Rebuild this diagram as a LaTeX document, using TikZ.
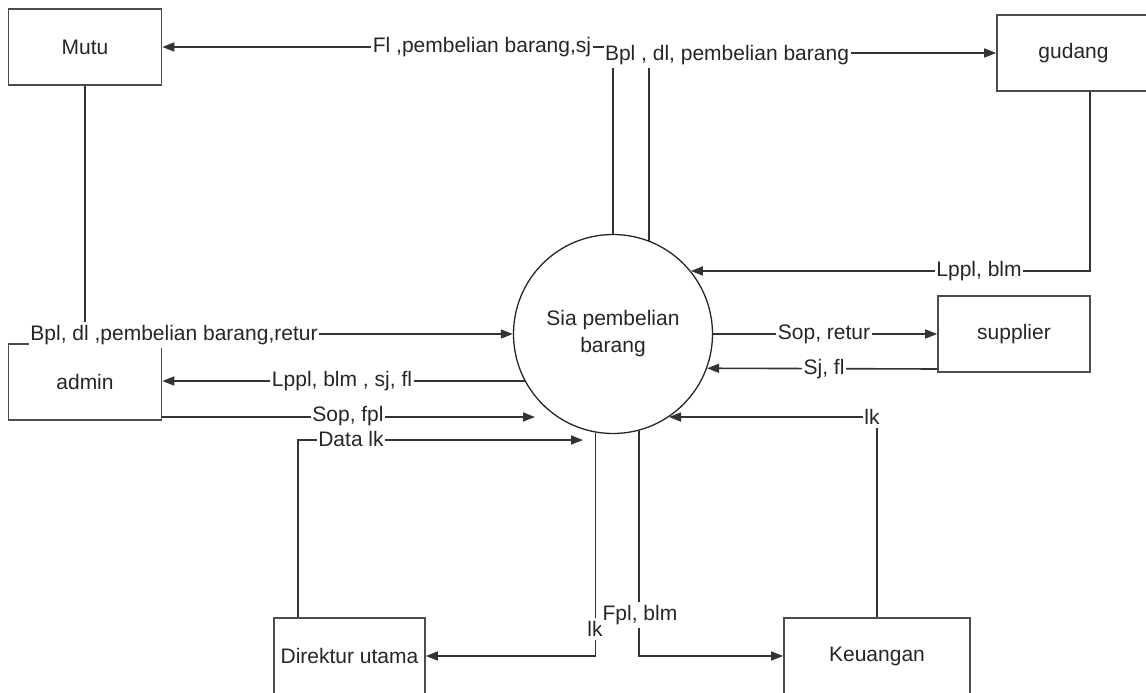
\documentclass[tikz,border=0pt]{standalone}
\usepackage{fontspec}
\setmainfont{Liberation Sans}
\usetikzlibrary{arrows.meta,calc}
\begin{document}
\begin{tikzpicture}[x=1pt,y=-1pt,
  every node/.style={font=\fontsize{21}{27}\selectfont, text=black!85},
  entity/.style={draw=black!70, line width=1.7pt, fill=white, minimum width=153pt,
                 minimum height=76pt, inner sep=0pt},
  process/.style={circle, draw=black!85, line width=1.3pt, minimum size=199pt,
                  inner sep=0pt, align=center},
  flow/.style={draw=black!80, line width=1.6pt, -{Triangle[length=12pt,width=9pt]}},
  lbl/.style={fill=white, inner xsep=1.5pt, inner ysep=3pt}
]
% canvas
\path[use as bounding box, fill=white] (0,0) rectangle (1146,693);
\clip (0,0) rectangle (1146,693);

% external entities and the process
\node[entity] (mutu) at (85,47) {Mutu};
\node[entity] (gudang) at (1073.5,53) {gudang};
\node[entity] (admin) at (85,382) {admin};
\node[entity, minimum width=152pt] (supplier) at (1014,334) {supplier};
\node[entity, minimum width=151pt] (direktur) at (349.5,656) {Direktur utama};
\node[entity, minimum width=186pt] (keuangan) at (877,656) {Keuangan};
\node[process] (sia) at (613,334) {Sia pembelian\\barang};

% free ends of the two short arrows
\coordinate (sopEnd) at (535,417);
\coordinate (dataEnd) at (583,440);

% data flows
\draw[flow] (sia.north) |- (mutu.east);
\draw[flow] (sia.69.4) |- (gudang.west);
\draw[flow] ([xshift=16.5pt]gudang.south) |- (sia.39.3);
\draw[flow] (mutu.south) |- (sia.west);
\draw[flow] (sia.east) -- (supplier.west);
\draw[flow] ([yshift=-35pt]supplier.west) -- (sia.-20.6);
\draw[flow] (sia.208.2) -- (sia.208.2 -| admin.east);
\draw[flow] ([yshift=-35pt]admin.east) -- (sopEnd);
\draw[flow] ([xshift=-51.5pt]direktur.north) |- (dataEnd);
\draw[flow] (keuangan.north) |- (sia.-56.5);
\draw[flow] (sia.260.16) |- (direktur.east);
\draw[flow] (sia.285.7) |- (keuangan.west);

% flow labels
\node[lbl] (lFl) at (482,47) {Fl ,pembelian barang,sj};
\node[lbl] (lBpl) at (727,55) {Bpl , dl, pembelian barang};
\node[lbl] (lLppl1) at (979,271) {Lppl, blm};
\node[lbl] (lBplAdm) at (174,335) {Bpl, dl ,pembelian barang,retur};
\node[lbl] (lSop1) at (824,334) {Sop, retur};
\node[lbl] (lSj) at (824,369) {Sj, fl};
\node[lbl] (lLppl2) at (342,381) {Lppl, blm , sj, fl};
\node[lbl] (lSop2) at (348,416) {Sop, fpl};
\node[lbl] (lData) at (351,439) {Data lk};
\node[lbl] (lLk1) at (872,417) {lk};
\node[lbl] (lLk2) at (595,629) {lk};
\node[lbl] (lFpl) at (640,615) {Fpl, blm};
\end{tikzpicture}
\end{document}
